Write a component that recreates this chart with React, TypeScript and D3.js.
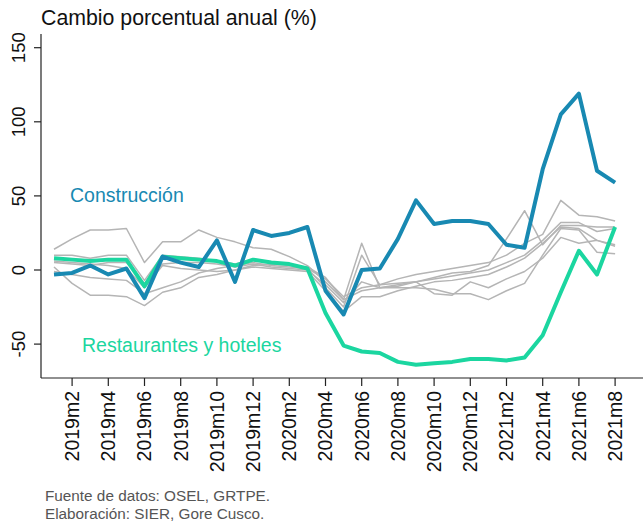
import React from 'react';
import * as d3 from 'd3';

const months = d3.range(32).map(i => `${2019 + Math.floor(i / 12)}m${(i % 12) + 1}`);
const tickMonths = months.filter((_, i) => i % 2 === 1);
const yTicks = [-50, 0, 50, 100, 150];

const construccion = [-3, -2, 3, -3, 1, -19, 9, 5, 2, 20, -8, 27, 23, 25, 29, -14,
  -30, 0, 1, 21, 47, 31, 33, 33, 31, 17, 15, 68, 105, 119, 67, 59];
const restaurantes = [8, 7, 6, 7, 7, -11, 9, 8, 7, 6, 3, 7, 5, 4, 1, -29,
  -51, -55, -56, -62, -64, -63, -62, -60, -60, -61, -59, -44, -15, 13, -3, 29];

// other sectors (grey)
const otros = [
  [14, 21, 27, 27, 28, 5, 19, 19, 27, 22, 19, 15, 14, 9, 3, -8, -20, 18, -12, -11, -8, -5, -2, -1, 3, 21, 40, 17, 30, 30, 29, 29],
  [10, 10, 8, 10, 10, -7, 10, 9, 8, 6, 4, 7, 5, 4, 1, -12, -25, 10, -10, -6, -3, -1, 1, 3, 5, 10, 18, 24, 47, 37, 36, 33],
  [2, -9, -17, -17, -18, -24, -15, -12, -5, -3, 0, 2, 1, 0, -1, -14, -28, -18, -18, -14, -11, -8, -7, -5, -3, 2, 8, 18, 29, 28, 20, 17],
  [5, 4, 3, 5, 5, -9, 4, 5, 5, 4, 2, 4, 2, 1, 0, -10, -22, -8, -12, -12, -12, -13, -16, -16, -20, -14, -9, 10, 28, 27, 12, 11],
  [-1, -3, -5, -6, -7, -16, -12, -8, -2, 1, 3, 5, 3, 2, 1, -6, -18, -12, -10, -9, -8, -16, -17, -8, -12, -6, -1, 8, 22, 18, 20, 16],
  [6, 5, 4, 3, 1, -12, 3, 1, 0, -1, 0, 3, 4, 3, 2, -5, -20, -14, -12, -10, -8, -6, -4, -2, 0, 5, 10, 20, 32, 32, 26, 28],
];

const BLUE = '#1889b2';
const GREEN = '#1bd6a0';
const FONT = '"Liberation Sans", Arial, sans-serif';

export default function App() {
  const width = 643;
  const height = 524;
  const axisX = 41;
  const axisY = 378;

  const x = d3.scaleLinear().domain([0, 31]).range([54, 615.1]);
  const y = d3.scaleLinear().domain([0, 150]).range([270, 47.7]);

  const line = d3.line<number>()
    .x((_, i) => x(i))
    .y(d => y(d));

  return (
    <svg width={width} height={height}
      style={{ position: 'absolute', left: 0, top: 0, fontFamily: FONT }}>
      <rect width={width} height={height} fill="#fff" />

      <text x={41} y={25} fontSize={21.3} fill="#111">Cambio porcentual anual (%)</text>

      {/* y axis */}
      <line x1={axisX} x2={axisX} y1={34} y2={axisY} stroke="#222" strokeWidth={1.2} />
      {yTicks.map(t => (
        <g key={t}>
          <line x1={axisX - 7} x2={axisX} y1={y(t)} y2={y(t)} stroke="#222" strokeWidth={1.2} />
          <text transform={`translate(25,${y(t)}) rotate(-90)`} textAnchor="middle"
            fontSize={18.5} fill="#111">{t}</text>
        </g>
      ))}

      {/* x axis */}
      <line x1={axisX} x2={width} y1={axisY} y2={axisY} stroke="#222" strokeWidth={1.2} />
      {tickMonths.map(m => {
        const i = months.indexOf(m);
        return (
          <g key={m}>
            <line x1={x(i)} x2={x(i)} y1={axisY} y2={axisY + 8} stroke="#222" strokeWidth={1.2} />
            <text transform={`translate(${x(i)},${axisY + 13}) rotate(-90)`} textAnchor="end"
              dy="0.35em" fontSize={19.5} fill="#111">{m}</text>
          </g>
        );
      })}

      {otros.map((s, k) => (
        <path key={k} d={line(s) ?? ''} fill="none" stroke="#b5b5b5" strokeWidth={1.5}
          strokeLinejoin="round" />
      ))}
      <path d={line(restaurantes) ?? ''} fill="none" stroke={GREEN} strokeWidth={4}
        strokeLinejoin="round" />
      <path d={line(construccion) ?? ''} fill="none" stroke={BLUE} strokeWidth={4}
        strokeLinejoin="round" />

      <text x={70} y={202} fontSize={19.5} fill={BLUE}>Construcción</text>
      <text x={82} y={352} fontSize={19.5} fill={GREEN}>Restaurantes y hoteles</text>

      <text x={45} y={501} fontSize={15.3} fill="#555">Fuente de datos: OSEL, GRTPE.</text>
      <text x={45} y={519} fontSize={15.3} fill="#555">Elaboración: SIER, Gore Cusco.</text>
    </svg>
  );
}
